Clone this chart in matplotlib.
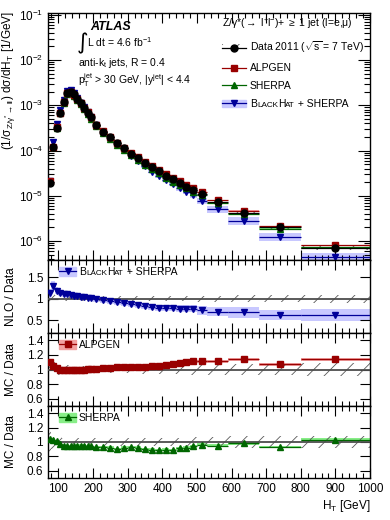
import numpy as np
import matplotlib
matplotlib.use('Agg')
import matplotlib.pyplot as plt
from matplotlib.patches import Patch
from matplotlib.lines import Line2D
from matplotlib.offsetbox import TextArea, HPacker
from matplotlib.ticker import MultipleLocator, LogLocator, NullFormatter

plt.rcParams['font.family'] = ['Liberation Sans', 'DejaVu Sans']
plt.rcParams['mathtext.fontset'] = 'custom'
plt.rcParams['mathtext.rm'] = 'Liberation Sans'
plt.rcParams['mathtext.it'] = 'Liberation Sans:italic'
plt.rcParams['mathtext.default'] = 'regular'
plt.rcParams['hatch.linewidth'] = 0.6

# H_T bins [GeV]
ht_edges = [70, 80, 90, 100, 110, 120, 130, 140, 150, 160, 170, 180, 190, 200,
            220, 240, 260, 280, 300, 320, 340, 360, 380, 400, 420, 440, 460, 480, 500,
            530, 590, 680, 800, 1000]

# normalised data, (1/sigma) dsigma/dHT [1/GeV]
data_vals = [1.9e-5, 1.17e-4, 3.2e-4, 6.8e-4, 1.2e-3, 1.9e-3, 2.0e-3, 1.74e-3, 1.38e-3,
             1.10e-3, 8.7e-4, 6.9e-4, 5.4e-4,
             3.7e-4, 2.6e-4, 1.95e-4, 1.45e-4, 1.12e-4, 8.5e-5, 6.8e-5, 5.4e-5, 4.3e-5,
             3.5e-5, 2.8e-5, 2.3e-5, 1.9e-5, 1.58e-5, 1.32e-5,
             1.07e-5, 7.2e-6, 4.1e-6, 2.0e-6, 7.1e-7]
data_rel_err = [0.15, 0.10, 0.08, 0.07, 0.06, 0.06, 0.05, 0.05, 0.05, 0.05, 0.05, 0.05, 0.05,
                0.05, 0.05, 0.05, 0.05, 0.05, 0.05, 0.05, 0.06, 0.06, 0.06, 0.06, 0.06, 0.06,
                0.06, 0.07, 0.07, 0.07, 0.08, 0.08, 0.09]

# MC / data ratios
nlo_ratio = [1.12, 1.30, 1.18, 1.14, 1.11, 1.10, 1.09, 1.07, 1.06, 1.04, 1.03, 1.02, 1.02,
             1.00, 0.97, 0.94, 0.92, 0.90, 0.88, 0.85, 0.83, 0.80, 0.78, 0.78, 0.78, 0.77,
             0.77, 0.77, 0.73, 0.70, 0.68, 0.62, 0.62]
nlo_rel_err = [0.10, 0.08, 0.07, 0.06, 0.06, 0.06, 0.06, 0.06, 0.06, 0.06, 0.06, 0.06, 0.06,
               0.07, 0.07, 0.07, 0.07, 0.08, 0.08, 0.08, 0.09, 0.09, 0.09, 0.10, 0.10, 0.11,
               0.11, 0.12, 0.14, 0.16, 0.19, 0.20, 0.21]
alpgen_ratio = [1.10, 1.05, 1.02, 1.00, 0.99, 0.99, 0.99, 0.99, 1.00, 1.00, 1.00, 1.01, 1.01,
                1.01, 1.02, 1.02, 1.03, 1.03, 1.04, 1.04, 1.04, 1.05, 1.05, 1.06, 1.07, 1.09,
                1.10, 1.11, 1.11, 1.11, 1.14, 1.07, 1.14]
alpgen_rel_err = [0.03, 0.02, 0.02, 0.02, 0.02, 0.02, 0.02, 0.02, 0.02, 0.02, 0.02, 0.02, 0.02,
                  0.02, 0.02, 0.02, 0.02, 0.02, 0.02, 0.02, 0.02, 0.02, 0.02, 0.02, 0.02, 0.02,
                  0.02, 0.02, 0.02, 0.02, 0.02, 0.02, 0.02]
sherpa_ratio = [1.04, 1.03, 1.01, 0.97, 0.95, 0.94, 0.94, 0.94, 0.95, 0.95, 0.95, 0.94, 0.94,
                0.93, 0.93, 0.92, 0.90, 0.92, 0.93, 0.92, 0.90, 0.895, 0.89, 0.895, 0.89, 0.91,
                0.92, 0.94, 0.965, 0.95, 0.98, 0.93, 1.03]
sherpa_rel_err = [0.03, 0.02, 0.02, 0.02, 0.02, 0.02, 0.02, 0.02, 0.02, 0.02, 0.02, 0.02, 0.02,
                  0.02, 0.02, 0.02, 0.02, 0.02, 0.02, 0.02, 0.02, 0.02, 0.02, 0.02, 0.02, 0.02,
                  0.02, 0.02, 0.02, 0.02, 0.02, 0.02, 0.02]

edges = np.array(ht_edges, dtype=float)
lo = edges[:-1]
wid = np.diff(edges)
ctr = lo + wid / 2
data = np.array(data_vals)
derr = np.array(data_rel_err)

c_alp, b_alp = '#990000', '#f2a0a0'
c_she, b_she = '#006600', '#88ee88'
c_nlo, b_nlo = '#000099', '#c8c8ff'
hatch_col = '0.35'

fig = plt.figure(figsize=(3.9, 5.2), dpi=100)
L, W = 48 / 390, 322 / 390
ax0 = fig.add_axes([L, 1 - 260 / 520, W, 247 / 520])
ax1 = fig.add_axes([L, 1 - 333 / 520, W, 73 / 520])
ax2 = fig.add_axes([L, 1 - 406 / 520, W, 73 / 520])
ax3 = fig.add_axes([L, 1 - 478 / 520, W, 72 / 520])


def style(ax):
    ax.set_xlim(70, 1000)
    ax.xaxis.set_major_locator(MultipleLocator(100))
    ax.xaxis.set_minor_locator(MultipleLocator(20))
    ax.tick_params(which='both', direction='in', top=True, right=True, labelsize=8.5, width=0.8)
    ax.tick_params(which='major', length=7)
    ax.tick_params(which='minor', length=3.5)
    for s in ax.spines.values():
        s.set_linewidth(1.0)


def mc(ax, y, err, col, bcol, mk, z):
    ax.bar(lo, 2 * err * y, bottom=y * (1 - err), width=wid, align='edge',
           color=bcol, linewidth=0, zorder=z)
    ax.errorbar(ctr, y, xerr=wid / 2, fmt=mk, color=col, ms=4.5, elinewidth=0.9,
                capsize=0, zorder=z + 3)


def hatched(ax, y, err, z):
    ax.bar(lo, 2 * err * y, bottom=y * (1 - err), width=wid, align='edge',
           facecolor='none', edgecolor=hatch_col, hatch='//', linewidth=0, zorder=z)


# main panel
style(ax0)
ax0.set_yscale('log')
ax0.set_ylim(3.8e-7, 0.11)
ax0.yaxis.set_major_locator(LogLocator(base=10, numticks=10))
ax0.yaxis.set_minor_locator(LogLocator(base=10, subs=np.arange(2, 10), numticks=20))
ax0.yaxis.set_minor_formatter(NullFormatter())
ax0.tick_params(axis='y', which='major', length=9)
ax0.tick_params(axis='y', which='minor', length=4.5)
ax0.tick_params(labelbottom=False)

nlo = data * np.array(nlo_ratio)
alp = data * np.array(alpgen_ratio)
she = data * np.array(sherpa_ratio)
mc(ax0, nlo, np.array(nlo_rel_err), c_nlo, b_nlo, 'v', 1)
mc(ax0, she, np.array(sherpa_rel_err), c_she, b_she, '^', 1.2)
mc(ax0, alp, np.array(alpgen_rel_err), c_alp, b_alp, 's', 1.4)
hatched(ax0, data, derr, 2)
ax0.errorbar(ctr, data, xerr=wid / 2, fmt='o', color='k', ms=5, elinewidth=0.9, capsize=0, zorder=6)

ax0.set_ylabel(r'$(1/\sigma_{Z/\gamma^{*}\rightarrow ll})$ d$\sigma$/dH$_T$ [1/GeV]',
               fontsize=8.5, loc='top')
ax0.yaxis.set_label_coords(-0.095, 1.01)

ax0.text(0.130, 0.943, 'ATLAS', weight='bold', style='italic', fontsize=9, va='center',
         transform=ax0.transAxes)
ax0.text(0.088, 0.878, '\u222b', family='DejaVu Sans', fontsize=16, va='center',
         transform=ax0.transAxes)
ax0.text(0.121, 0.883, 'L dt = 4.6 fb$^{-1}$', fontsize=7.5, va='center', transform=ax0.transAxes)
ax0.text(0.093, 0.798, 'anti-k$_t$ jets, R = 0.4', fontsize=7.5, va='center', transform=ax0.transAxes)
ax0.text(0.093, 0.729, 'p$_T^{jet}$ > 30 GeV, |y$^{jet}$| < 4.4', fontsize=7.5, va='center',
         transform=ax0.transAxes)

h_data = (Patch(facecolor='none', edgecolor=hatch_col, hatch='//', linewidth=0),
          Line2D([], [], color='k', marker='o', ms=5, lw=0.9))
h_alp = Line2D([], [], color=c_alp, marker='s', ms=4.5, lw=0.9)
h_she = Line2D([], [], color=c_she, marker='^', ms=4.5, lw=0.9)
h_nlo = (Patch(color=b_nlo), Line2D([], [], color=c_nlo, marker='v', ms=4.5, lw=0.9))


def smallcaps(fig, leg, idx, size):
    col = leg._legend_handle_box.get_children()[0]
    item = col.get_children()[idx]
    parts = [('B', size), ('LACK', size * 0.78), ('H', size), ('AT', size * 0.78),
             (' + SHERPA', size)]
    pack = HPacker(children=[TextArea(t, textprops=dict(size=s)) for t, s in parts],
                   align='baseline', pad=0, sep=0)
    pack.set_figure(fig)
    item.get_children()[1] = pack


leg = ax0.legend([h_data, h_alp, h_she, h_nlo],
                 [r'Data 2011 ($\sqrt{s}$ = 7 TeV)', 'ALPGEN', 'SHERPA', 'BLACKHAT + SHERPA'],
                 title=r'Z/$\gamma$*($\rightarrow$ l$^{+}$l$^{-}$)+ $\geq$ 1 jet (l=e,$\mu$)',
                 loc='upper left', bbox_to_anchor=(0.54, 0.985), frameon=False,
                 fontsize=7.5, title_fontsize=7.5, handlelength=2.3, handletextpad=0.4,
                 labelspacing=0.75, borderpad=0, borderaxespad=0, alignment='left')
smallcaps(fig, leg, 3, 7.5)

# ratio panels
ratio_panels = [(ax1, nlo_ratio, nlo_rel_err, c_nlo, b_nlo, 'v', 'NLO / Data'),
                (ax2, alpgen_ratio, alpgen_rel_err, c_alp, b_alp, 's', 'MC / Data'),
                (ax3, sherpa_ratio, sherpa_rel_err, c_she, b_she, '^', 'MC / Data')]
for ax, r, e, col, bcol, mk, lab in ratio_panels:
    style(ax)
    r = np.array(r)
    ax.bar(lo, 2 * np.array(e) * r, bottom=r * (1 - np.array(e)), width=wid, align='edge',
           color=bcol, linewidth=0, zorder=1)
    hatched(ax, np.ones_like(data), derr, 2)
    ax.axhline(1, color='0.3', lw=1.3, zorder=3)
    ax.errorbar(ctr, r, xerr=wid / 2, fmt=mk, color=col, ms=4.5, elinewidth=0.9,
                capsize=0, zorder=5)
    ax.set_ylabel(lab, fontsize=8.5)
    ax.yaxis.set_label_coords(-0.095, 0.5)

ax1.set_ylim(0.2, 1.9)
ax1.set_yticks([0.5, 1, 1.5], ['0.5', '1', '1.5'])
for ax in (ax2, ax3):
    ax.set_ylim(0.5, 1.5)
    ax.set_yticks([0.6, 0.8, 1, 1.2, 1.4], ['0.6', '0.8', '1', '1.2', '1.4'])
for ax in (ax1, ax2):
    ax.tick_params(labelbottom=False)

rl_kw = dict(loc='center left', frameon=False, fontsize=7.5, handlelength=1.6,
             handletextpad=0.3, borderpad=0, borderaxespad=0, handleheight=0.9)
l1 = ax1.legend([(Patch(color=b_nlo), Line2D([], [], color=c_nlo, marker='v', ms=5, lw=0.9))],
                ['BLACKHAT + SHERPA'], bbox_to_anchor=(0.035, 0.836), **rl_kw)
smallcaps(fig, l1, 0, 7.5)
ax2.legend([(Patch(color=b_alp), Line2D([], [], color=c_alp, marker='s', ms=5, lw=0.9))],
           ['ALPGEN'], bbox_to_anchor=(0.035, 0.83), **rl_kw)
ax3.legend([(Patch(color=b_she), Line2D([], [], color=c_she, marker='^', ms=5, lw=0.9))],
           ['SHERPA'], bbox_to_anchor=(0.035, 0.83), **rl_kw)

ax3.set_xlabel('H$_T$ [GeV]', fontsize=8.5, loc='right', labelpad=2)

fig.savefig('out.png', dpi=100)
